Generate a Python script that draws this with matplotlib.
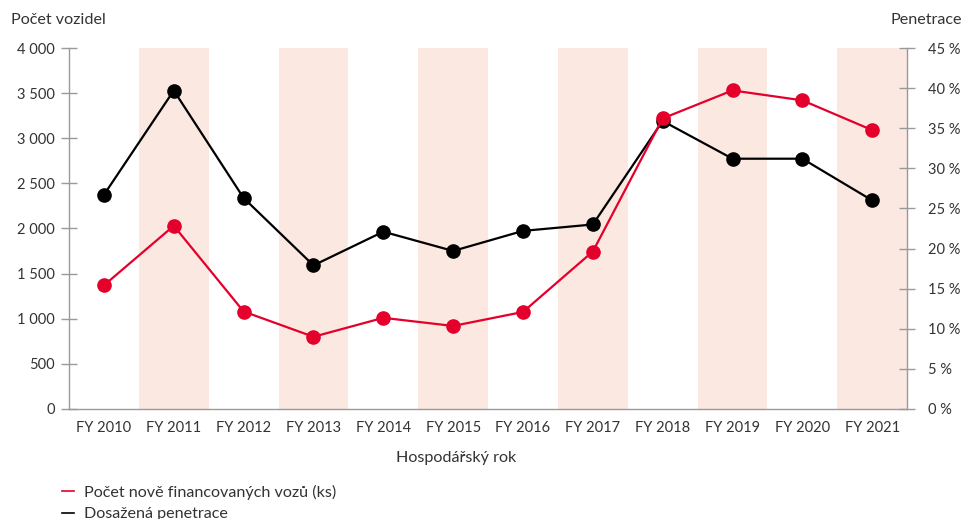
import matplotlib
matplotlib.use("Agg")
import matplotlib.pyplot as plt
from matplotlib.lines import Line2D
from matplotlib.ticker import FuncFormatter, MultipleLocator

plt.rcParams['font.family'] = ['Lato', 'DejaVu Sans']
plt.rcParams['font.size'] = 10.5
plt.rcParams['text.color'] = '#333333'

years = ["FY 2010", "FY 2011", "FY 2012", "FY 2013", "FY 2014", "FY 2015",
         "FY 2016", "FY 2017", "FY 2018", "FY 2019", "FY 2020", "FY 2021"]
financed_cars = [1370, 2030, 1080, 800, 1010, 920, 1075, 1745, 3220, 3530, 3420, 3090]
penetration = [26.7, 39.7, 26.3, 17.9, 22.1, 19.7, 22.2, 23.0, 35.9, 31.2, 31.2, 26.0]

RED = '#e4002b'
BAND = '#fae8e1'
AXIS = '#9a9a9a'
TEXT = '#333333'
LABEL_FS = 11.6

fig = plt.figure(figsize=(9.64, 5.19), dpi=100)
ax = fig.add_axes([0.0716, 0.212, 0.8694, 0.6955])
ax2 = ax.twinx()

# ax2 (penetration + bands) below, ax (counts) on top
ax.set_zorder(ax2.get_zorder() + 1)
ax.patch.set_visible(False)

x = list(range(len(years)))
for i in x:
    if i % 2 == 1:
        ax2.axvspan(i - 0.5, i + 0.5, color=BAND, lw=0, zorder=0)

ax2.plot(x, penetration, color='black', lw=1.6, marker='o', ms=9.5, zorder=3)
ax.plot(x, financed_cars, color=RED, lw=1.6, marker='o', ms=9.5, zorder=3)

ax.set_xlim(-0.5, 11.5)
ax.set_ylim(0, 4000)
ax2.set_ylim(0, 45)

ax.yaxis.set_major_locator(MultipleLocator(500))
ax2.yaxis.set_major_locator(MultipleLocator(5))
ax.yaxis.set_major_formatter(FuncFormatter(lambda v, p: f"{int(v):,}".replace(",", " ")))
ax2.yaxis.set_major_formatter(FuncFormatter(lambda v, p: f"{int(v)} %"))

ax.set_xticks(x)
ax.set_xticklabels(years)
ax.tick_params(axis='x', length=0, pad=9, labelcolor=TEXT)
ax.tick_params(axis='y', direction='inout', length=12, width=1, color=AXIS, pad=4, labelcolor=TEXT)
ax2.tick_params(axis='y', direction='inout', length=12, width=1, color=AXIS, pad=9, labelcolor=TEXT)

for s in ['top', 'right']:
    ax.spines[s].set_visible(False)
for s in ['top', 'left', 'bottom']:
    ax2.spines[s].set_visible(False)
for a, s in [(ax, 'left'), (ax, 'bottom'), (ax2, 'right')]:
    a.spines[s].set_color(AXIS)
    a.spines[s].set_linewidth(1)

fig.text(0.011, 0.962, "Počet vozidel", ha='left', va='center', fontsize=LABEL_FS)
fig.text(0.998, 0.962, "Penetrace", ha='right', va='center', fontsize=LABEL_FS)
fig.text(0.473, 0.117, "Hospodářský rok", ha='center', va='center', fontsize=LABEL_FS)

handles = [Line2D([], [], color=RED, lw=1.2), Line2D([], [], color='black', lw=1.2)]
labels = ["Počet nově financovaných vozů (ks)", "Dosažená penetrace"]
fig.legend(handles, labels, loc='upper left', bbox_to_anchor=(0.064, 0.066),
           frameon=False, handlelength=0.75, handletextpad=0.65, labelspacing=0.45,
           borderaxespad=0, borderpad=0, fontsize=LABEL_FS)

fig.savefig("out.png", dpi=100)
